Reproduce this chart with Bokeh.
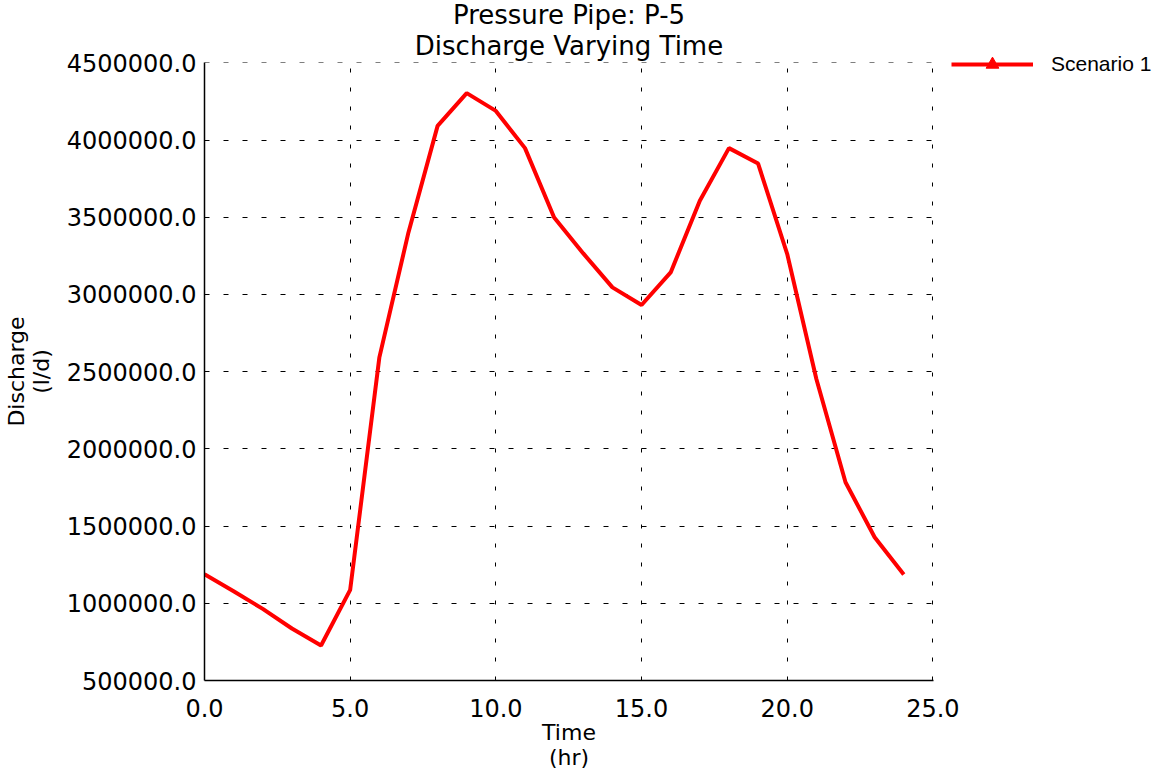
from bokeh.plotting import figure
from bokeh.models import (Range1d, FixedTicker, NumeralTickFormatter, Legend, LegendItem,
                          ColumnDataSource, Title)
from bokeh.embed import file_html
from bokeh.resources import INLINE

# ---- data ----
time_hr = [0, 1, 2, 3, 4, 5, 6, 7, 8, 9, 10, 11, 12, 13, 14, 15, 16, 17, 18, 19, 20, 21, 22, 23, 24]
discharge = [1188000, 1078000, 964000, 837000, 727000, 1087000, 2591000, 3402000, 4092000,
             4304000, 4189000, 3948000, 3499000, 3266000, 3046000, 2932000, 3143000, 3607000,
             3948000, 3848000, 3262000, 2453000, 1784000, 1428000, 1186000]
x_ticks = [0, 5, 10, 15, 20, 25]
y_ticks = [500000, 1000000, 1500000, 2000000, 2500000, 3000000, 3500000, 4000000, 4500000]
series_name = "Scenario 1"
title_lines = ["Pressure Pipe: P-5", "Discharge Varying Time"]
x_label = "Time\n(hr)"
y_label = "Discharge\n(l/d)"

TICK_FONT = "DejaVu Sans"

p = figure(width=1152, height=769, frame_width=729, frame_height=618,
           output_backend="svg", toolbar_location=None,
           x_range=Range1d(0, 25.02), y_range=Range1d(500000, 4502500),
           min_border_left=203, min_border_right=10, min_border_top=62, min_border_bottom=89)
# first title line is the figure's own (outermost) title; the second is stacked under it
p.title.text = title_lines[0]
p.title.align = "center"
p.title.text_font = TICK_FONT
p.title.text_font_size = "26px"
p.title.text_font_style = "normal"
p.title.text_color = "black"
p.title.standoff = -6
p.add_layout(Title(text=title_lines[1], align="center", text_font=TICK_FONT,
                   text_font_size="26px", text_font_style="normal", text_color="black",
                   standoff=4), "above")
p.outline_line_color = None
p.background_fill_color = "white"
p.border_fill_color = "white"

# off-screen range used only so the series' marker style appears in the legend
p.extra_y_ranges = {"legend_only": Range1d(-2e7, -1e7)}

src = ColumnDataSource(dict(t=time_hr, q=discharge))
line_r = p.line("t", "q", source=src, line_color="#ff0000", line_width=4)
tri_r = p.scatter("t", "q", source=src, y_range_name="legend_only",
                  marker="triangle", size=13, fill_color="#ff0000", line_color="#ff0000")

for ax in (p.xaxis[0], p.yaxis[0]):
    ax.major_tick_line_color = None
    ax.minor_tick_line_color = None
    ax.major_tick_out = 0
    ax.major_tick_in = 0
    ax.axis_line_color = "black"
    ax.axis_line_width = 1.5
    ax.major_label_text_font = TICK_FONT
    ax.major_label_text_font_size = "24px"
    ax.major_label_text_color = "black"
    ax.axis_label_text_font = TICK_FONT
    ax.axis_label_text_font_size = "22px"
    ax.axis_label_text_font_style = "normal"
    ax.axis_label_text_color = "black"
    ax.axis_label_text_line_height = 1.0

p.xaxis.ticker = FixedTicker(ticks=x_ticks)
p.yaxis.ticker = FixedTicker(ticks=y_ticks)
p.xaxis.formatter = NumeralTickFormatter(format="0.0")
p.yaxis.formatter = NumeralTickFormatter(format="0.0")
p.xaxis.axis_label = x_label
p.yaxis.axis_label = y_label
p.xaxis.major_label_standoff = 18
p.yaxis.major_label_standoff = 8
p.xaxis.axis_label_standoff = 0
p.yaxis.axis_label_standoff = 10

p.xgrid.grid_line_color = "black"
p.xgrid.grid_line_dash = "4 15"
p.xgrid.grid_line_width = 1
p.ygrid.grid_line_color = "black"
p.ygrid.grid_line_dash = "5 14"
p.ygrid.grid_line_width = 1

legend = Legend(items=[LegendItem(label=series_name, renderers=[line_r, tri_r])],
                location=(18, 600), orientation="vertical",
                glyph_width=82, glyph_height=32, label_standoff=18,
                padding=0, margin=0, spacing=0,
                border_line_color=None, background_fill_alpha=0,
                label_text_font="Liberation Sans",
                label_text_font_size="21px", label_text_color="black")
p.add_layout(legend, "right")

open("out.html", "w").write(file_html(p, INLINE))
